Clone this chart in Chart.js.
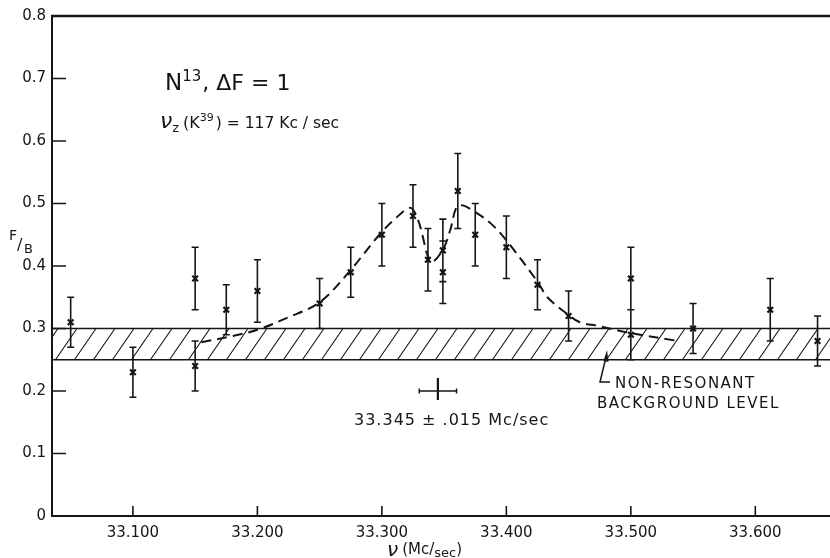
<!DOCTYPE html>
<html>
<head>
<meta charset="utf-8">
<script src="https://cdn.jsdelivr.net/npm/chart.js@4/dist/chart.umd.min.js"></script>
<style>
html,body{margin:0;padding:0;background:#fff;}
#c{display:block;}
</style>
</head>
<body>
<canvas id="c" width="830" height="558"></canvas>
<script>
// ---- data ----
const freq  = [33.05, 33.10, 33.15, 33.15, 33.175, 33.20, 33.25, 33.275, 33.30, 33.325, 33.337, 33.349, 33.349, 33.361, 33.375, 33.40, 33.425, 33.45, 33.50, 33.50, 33.55, 33.612, 33.65];
const ratio = [0.31, 0.23, 0.38, 0.24, 0.33, 0.36, 0.34, 0.39, 0.45, 0.48, 0.41, 0.425, 0.39, 0.52, 0.45, 0.43, 0.37, 0.32, 0.38, 0.29, 0.30, 0.33, 0.28];
const errs  = [0.04, 0.04, 0.05, 0.04, 0.04, 0.05, 0.04, 0.04, 0.05, 0.05, 0.05, 0.05, 0.05, 0.06, 0.05, 0.05, 0.04, 0.04, 0.05, 0.04, 0.04, 0.05, 0.04];

const curveX = [33.155, 33.18, 33.20, 33.225, 33.25, 33.273, 33.298, 33.312, 33.323, 33.329, 33.333, 33.336, 33.340, 33.349, 33.355, 33.360, 33.365, 33.376, 33.387, 33.400, 33.425, 33.433, 33.449, 33.459, 33.474, 33.499, 33.535];
const curveY = [0.278, 0.288, 0.298, 0.318, 0.342, 0.389, 0.450, 0.478, 0.493, 0.474, 0.446, 0.421, 0.406, 0.426, 0.458, 0.494, 0.497, 0.485, 0.469, 0.441, 0.375, 0.350, 0.323, 0.310, 0.304, 0.293, 0.281];

const bandLow = 0.25, bandHigh = 0.30;
const resonance = 33.345, resonanceErr = 0.015, resonanceLevel = 0.20;

const xTickValues = [33.1, 33.2, 33.3, 33.4, 33.5, 33.6];
const xTickLabels = ['33.100', '33.200', '33.300', '33.400', '33.500', '33.600'];
const yTickValues = [0, 0.1, 0.2, 0.3, 0.4, 0.5, 0.6, 0.7, 0.8];
const yTickLabels = ['0', '0.1', '0.2', '0.3', '0.4', '0.5', '0.6', '0.7', '0.8'];

const INK = '#151515';
const FONT = '"DejaVu Sans", sans-serif';

function runs(ctx, x, y, parts){
  let cx = x;
  for (const p of parts){
    ctx.font = (p.italic ? 'italic ' : '') + p.size + 'px ' + FONT;
    ctx.letterSpacing = (p.ls || 0) + 'px';
    ctx.fillText(p.t, cx, y + (p.dy || 0));
    cx += ctx.measureText(p.t).width + (p.gap || 0);
  }
  ctx.letterSpacing = '0px';
}

const figPlugin = {
  id: 'fig',
  beforeDatasetsDraw(chart){
    const {ctx, chartArea: a, scales: {x, y}} = chart;
    const yt = y.getPixelForValue(bandHigh), yb = y.getPixelForValue(bandLow);
    ctx.save();
    ctx.strokeStyle = INK;
    ctx.lineWidth = 1.6;
    ctx.beginPath();
    ctx.moveTo(a.left, yt); ctx.lineTo(a.right, yt);
    ctx.moveTo(a.left, yb); ctx.lineTo(a.right, yb);
    ctx.stroke();
    ctx.beginPath(); ctx.rect(a.left, yt, a.right - a.left, yb - yt); ctx.clip();
    ctx.lineWidth = 1.1;
    const h = yb - yt, slant = h * 0.69, step = 19;
    ctx.beginPath();
    for (let px = a.left - slant - step + 6; px < a.right + step; px += step){
      ctx.moveTo(px, yb); ctx.lineTo(px + slant, yt);
    }
    ctx.stroke();
    ctx.restore();
  },
  afterDatasetsDraw(chart){
    const {ctx, chartArea: a, scales: {x, y}} = chart;
    ctx.save();
    ctx.strokeStyle = INK; ctx.fillStyle = INK;
    // top frame line
    ctx.lineWidth = 2.5;
    ctx.beginPath(); ctx.moveTo(a.left - 1, a.top); ctx.lineTo(chart.width, a.top); ctx.stroke();
    // inward ticks
    ctx.lineWidth = 1.6;
    ctx.beginPath();
    for (const v of yTickValues){
      if (v <= 0 || v >= 0.8) continue;
      const py = y.getPixelForValue(v);
      ctx.moveTo(a.left, py); ctx.lineTo(a.left + 14, py);
    }
    for (const v of xTickValues){
      const px = x.getPixelForValue(v);
      ctx.moveTo(px, a.bottom); ctx.lineTo(px, a.bottom - 10);
    }
    ctx.stroke();
    // error bars
    ctx.lineWidth = 1.6;
    ctx.beginPath();
    for (let i = 0; i < freq.length; i++){
      const px = x.getPixelForValue(freq[i]);
      const p1 = y.getPixelForValue(ratio[i] + errs[i]);
      const p2 = y.getPixelForValue(ratio[i] - errs[i]);
      ctx.moveTo(px, p1); ctx.lineTo(px, p2);
      ctx.moveTo(px - 3.5, p1); ctx.lineTo(px + 3.5, p1);
      ctx.moveTo(px - 3.5, p2); ctx.lineTo(px + 3.5, p2);
    }
    ctx.stroke();
    // resonance marker
    const rx = x.getPixelForValue(resonance), ry = y.getPixelForValue(resonanceLevel);
    const rl = x.getPixelForValue(resonance - resonanceErr), rr = x.getPixelForValue(resonance + resonanceErr);
    ctx.lineWidth = 1.5;
    ctx.beginPath();
    ctx.moveTo(rl, ry); ctx.lineTo(rr, ry);
    ctx.moveTo(rl, ry - 2.5); ctx.lineTo(rl, ry + 2.5);
    ctx.moveTo(rr, ry - 2.5); ctx.lineTo(rr, ry + 2.5);
    ctx.stroke();
    ctx.lineWidth = 2.2;
    ctx.beginPath();
    ctx.moveTo(rx, ry - 13); ctx.lineTo(rx, ry + 9);
    ctx.stroke();

    ctx.textBaseline = 'alphabetic';
    ctx.textAlign = 'left';
    // title annotations
    runs(ctx, 165, 90, [
      {t: 'N', size: 23},
      {t: '13', size: 15, dy: -9, gap: 1},
      {t: ', ΔF = 1', size: 22}
    ]);
    runs(ctx, 160, 128, [
      {t: 'ν', size: 22, italic: true},
      {t: 'z', size: 13, dy: 4, gap: 4},
      {t: '(K', size: 16},
      {t: '39', size: 11, dy: -7, gap: 2},
      {t: ') = 117 Kc / sec', size: 15.5}
    ]);
    // resonance value text
    ctx.font = '16px ' + FONT;
    ctx.letterSpacing = '1px';
    ctx.fillText('33.345 ± .015 Mc/sec', 354, 425);
    // background label
    ctx.font = '15px ' + FONT;
    ctx.letterSpacing = '1.5px';
    ctx.fillText('NON-RESONANT', 615, 388);
    ctx.fillText('BACKGROUND LEVEL', 597, 408);
    ctx.letterSpacing = '0px';
    ctx.lineWidth = 1.5;
    ctx.beginPath();
    ctx.moveTo(610, 382); ctx.lineTo(600, 382); ctx.lineTo(606, 357);
    ctx.stroke();
    ctx.beginPath();
    ctx.moveTo(607, 350); ctx.lineTo(603.5, 361); ctx.lineTo(608.5, 362); ctx.closePath();
    ctx.fill();
    // y-axis title F/B
    runs(ctx, 9, 240, [{t: 'F', size: 14}]);
    runs(ctx, 17, 250, [{t: '/', size: 16}]);
    runs(ctx, 24, 253, [{t: 'B', size: 13}]);
    // x-axis title
    runs(ctx, 387, 556, [
      {t: 'ν', size: 20, italic: true, gap: 4},
      {t: '(Mc/', size: 15, dy: -2},
      {t: 'sec', size: 13, dy: 1},
      {t: ')', size: 15, dy: -2}
    ]);
    ctx.restore();
  }
};

new Chart(document.getElementById('c'), {
  type: 'scatter',
  data: {
    datasets: [
      {
        type: 'line',
        data: curveX.map((v, i) => ({x: v, y: curveY[i]})),
        borderColor: INK,
        borderWidth: 2,
        borderDash: [10, 6],
        pointRadius: 0,
        tension: 0.35,
        fill: false
      },
      {
        data: freq.map((v, i) => ({x: v, y: ratio[i]})),
        pointStyle: 'crossRot',
        pointRadius: 4,
        borderColor: INK,
        backgroundColor: INK,
        borderWidth: 2.2
      }
    ]
  },
  options: {
    responsive: false,
    animation: false,
    devicePixelRatio: 1,
    layout: {autoPadding: false, padding: {top: 16, left: 0, right: 0, bottom: 0}},
    plugins: {legend: {display: false}, tooltip: {enabled: false}},
    scales: {
      x: {
        type: 'linear', min: 33.035, max: 33.66,
        grid: {display: false, drawTicks: false},
        border: {display: true, color: INK, width: 2},
        afterFit(s){ s.height = 42; s.paddingLeft = 0; s.paddingRight = 0; },
        afterBuildTicks(s){ s.ticks = xTickValues.map(v => ({value: v})); },
        ticks: {
          padding: 8,
          color: INK,
          font: {family: FONT, size: 15},
          callback: (v) => { const i = xTickValues.findIndex(t => Math.abs(t - v) < 1e-6); return i >= 0 ? xTickLabels[i] : ''; }
        }
      },
      y: {
        type: 'linear', min: 0, max: 0.8,
        grid: {display: false, drawTicks: false},
        border: {display: true, color: INK, width: 2},
        afterFit(s){ s.width = 52; s.paddingTop = 0; s.paddingBottom = 0; },
        afterBuildTicks(s){ s.ticks = yTickValues.map(v => ({value: v})); },
        ticks: {
          padding: 6,
          color: INK,
          font: {family: FONT, size: 15},
          callback: (v) => { const i = yTickValues.findIndex(t => Math.abs(t - v) < 1e-6); return i >= 0 ? yTickLabels[i] : ''; }
        }
      }
    }
  },
  plugins: [figPlugin]
});
</script>
</body>
</html>
